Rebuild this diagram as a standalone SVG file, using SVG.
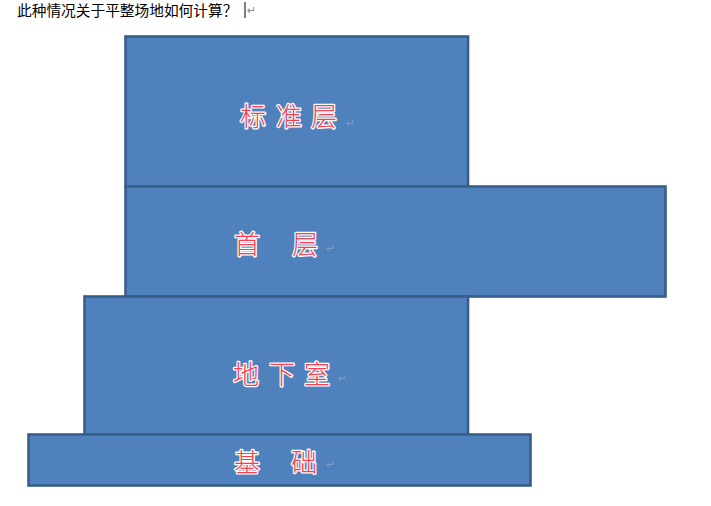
<svg xmlns="http://www.w3.org/2000/svg" width="711" height="506" viewBox="0 0 711 506">
<style>
.blk{fill:#4f81bd;stroke:#385d8a;stroke-width:2.6}
.lbl{font-family:"Noto Sans CJK SC","Noto Sans",sans-serif;font-size:26px;font-weight:300;fill:#ff3a4a;stroke:#ffffff;stroke-width:2.6;paint-order:stroke;stroke-linejoin:round}
.mk{font-family:"DejaVu Sans",sans-serif;font-size:11px;fill:#7f9cc4}
.ttl{font-family:"Noto Sans CJK SC","Noto Sans",sans-serif;font-size:14.7px;fill:#000}
</style>
<rect width="711" height="506" fill="#ffffff"/>
<text class="ttl" x="17" y="15.5">此种情况关于平整场地如何计算？</text>
<line x1="245" y1="2" x2="245" y2="18" stroke="#000" stroke-width="1"/>
<text class="mk" x="247" y="14" style="fill:#888">↵</text>
<g id="connectors"></g>
<g id="n-standard">
<rect class="blk" x="125.5" y="36.5" width="342.5" height="150"/>
<text class="lbl" x="240 276 311" y="126">标准层</text>
<text class="mk" x="346" y="127">↵</text>
</g>
<g id="n-first">
<rect class="blk" x="125.5" y="186.5" width="540" height="110"/>
<text class="lbl" x="234 292" y="254">首层</text>
<text class="mk" x="326" y="252">↵</text>
</g>
<g id="n-basement">
<rect class="blk" x="84.5" y="296.5" width="383.5" height="138"/>
<text class="lbl" x="233 269 304" y="384">地下室</text>
<text class="mk" x="338" y="382">↵</text>
</g>
<g id="n-foundation">
<rect class="blk" x="28.5" y="434.5" width="502" height="51"/>
<text class="lbl" x="234 291" y="472">基础</text>
<text class="mk" x="326" y="468">↵</text>
</g>
</svg>
